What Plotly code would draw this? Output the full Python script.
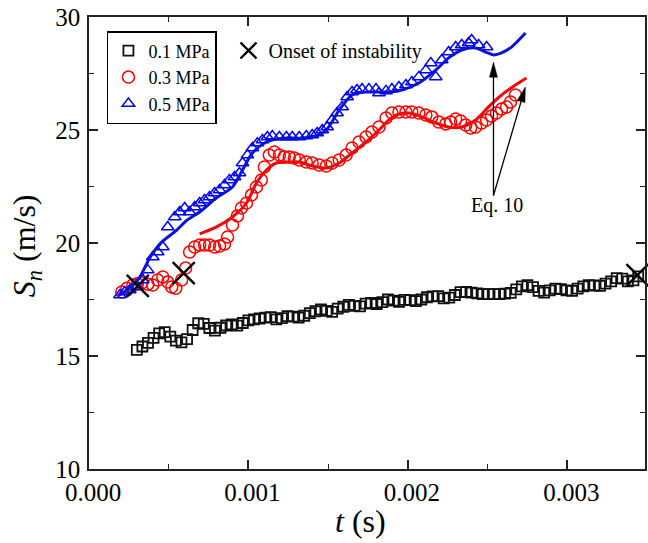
import math
import plotly.graph_objects as go

# ---------------- data (time in microseconds, flame speed in m/s) ----------------
t_01_us = [300, 335, 370, 405, 440, 475, 510, 545, 580, 615, 650, 685, 720, 755, 790,
           825, 860, 895, 930, 965, 1000, 1035, 1070, 1105, 1140, 1175, 1210, 1245,
           1280, 1315, 1350, 1385, 1420, 1455, 1490, 1525, 1560, 1595, 1630, 1665,
           1700, 1735, 1770, 1805, 1840, 1875, 1910, 1945, 1980, 2015, 2050, 2085,
           2120, 2155, 2190, 2225, 2260, 2295, 2330, 2365, 2400, 2435, 2470, 2505,
           2540, 2575, 2610, 2645, 2680, 2715, 2750, 2785, 2820, 2855, 2890, 2925,
           2960, 2995, 3030, 3065, 3100, 3135, 3170, 3205, 3240, 3275, 3310, 3345,
           3380, 3415, 3445]
s_01 = [15.27, 15.42, 15.58, 15.80, 16.00, 16.06, 15.86, 15.68, 15.60, 15.75, 16.15,
        16.45, 16.42, 16.24, 16.12, 16.25, 16.35, 16.40, 16.34, 16.46, 16.58, 16.62,
        16.66, 16.70, 16.72, 16.62, 16.68, 16.76, 16.74, 16.70, 16.78, 16.90, 16.98,
        17.06, 17.00, 16.95, 17.10, 17.18, 17.26, 17.22, 17.20, 17.32, 17.35, 17.30,
        17.38, 17.50, 17.45, 17.40, 17.48, 17.47, 17.43, 17.50, 17.60, 17.64, 17.65,
        17.55, 17.58, 17.70, 17.83, 17.84, 17.80, 17.77, 17.74, 17.74, 17.74, 17.74,
        17.76, 17.79, 17.95, 18.08, 18.14, 18.05, 17.88, 17.80, 17.90, 17.98, 17.96,
        17.90, 17.88, 17.98, 18.08, 18.14, 18.12, 18.10, 18.20, 18.30, 18.45, 18.42,
        18.30, 18.35, 18.52]

t_03_us = [206, 238, 275, 303, 331, 369, 400, 431, 463, 494, 519, 544, 581, 606, 631,
           663, 694, 725, 756, 788, 819, 850, 869, 900, 931, 956, 988, 1019, 1050,
           1081, 1100, 1131, 1163, 1194, 1225, 1256, 1288, 1319, 1363, 1400, 1444,
           1488, 1525, 1569, 1613, 1650, 1694, 1738, 1775, 1819, 1863, 1900, 1944,
           1988, 2025, 2069, 2113, 2150, 2194, 2238, 2269, 2300, 2331, 2363, 2394,
           2425, 2463, 2494, 2525, 2556, 2588, 2619, 2644, 2675]
s_03 = [17.83, 18.00, 18.14, 18.20, 18.23, 18.18, 18.14, 18.36, 18.50, 18.27, 18.05,
        18.00, 18.36, 18.89, 19.60, 19.82, 19.91, 19.91, 19.91, 19.82, 19.87, 19.96,
        20.27, 20.80, 21.20, 21.55, 21.77, 22.12, 22.48, 22.79, 23.36, 23.89, 24.03,
        23.89, 23.81, 23.81, 23.76, 23.67, 23.58, 23.54, 23.45, 23.41, 23.54, 23.67,
        23.89, 24.20, 24.47, 24.69, 24.91, 25.13, 25.53, 25.75, 25.80, 25.80, 25.80,
        25.75, 25.66, 25.58, 25.35, 25.27, 25.35, 25.49, 25.40, 25.22, 25.09, 25.13,
        25.31, 25.44, 25.62, 25.75, 25.93, 26.02, 26.24, 26.55]

t_05_us = [194, 225, 256, 300, 338, 369, 400, 431, 463, 494, 538, 569, 600, 631, 663,
           694, 725, 756, 788, 819, 850, 881, 913, 944, 963, 994, 1025, 1056, 1088,
           1119, 1150, 1194, 1238, 1275, 1319, 1363, 1400, 1431, 1463, 1494, 1525,
           1556, 1588, 1619, 1650, 1681, 1713, 1756, 1800, 1819, 1863, 1900, 1944,
           1988, 2025, 2069, 2113, 2144, 2175, 2213, 2256, 2300, 2338, 2381, 2400,
           2444, 2494]
s_05 = [17.70, 17.83, 17.92, 18.05, 18.36, 18.80, 19.38, 19.60, 19.82, 20.71, 21.15,
        21.37, 21.55, 21.37, 21.59, 21.77, 21.90, 22.04, 22.21, 22.35, 22.57, 22.79,
        22.92, 23.10, 23.54, 23.89, 24.20, 24.42, 24.56, 24.69, 24.73, 24.69, 24.69,
        24.69, 24.69, 24.73, 24.78, 24.87, 25.00, 25.13, 25.44, 25.75, 26.02, 26.46,
        26.68, 26.77, 26.81, 26.81, 26.81, 26.64, 26.73, 26.81, 26.90, 26.99, 27.12,
        27.35, 27.65, 27.96, 27.35, 28.10, 28.45, 28.67, 28.76, 28.85, 28.98, 28.76,
        28.67]

# Eq. 10 predictions
t_eq_03_us = [694, 800, 900, 988, 1050, 1113, 1175, 1238, 1319, 1400, 1488, 1569,
              1650, 1738, 1819, 1875, 1925, 2006, 2088, 2175, 2256, 2338, 2425, 2506,
              2588, 2675, 2744]
s_eq_03 = [20.40, 20.71, 21.15, 21.77, 22.65, 23.23, 23.54, 23.58, 23.58, 23.41, 23.32,
           23.54, 23.98, 24.47, 25.00, 25.40, 25.66, 25.75, 25.58, 25.31, 25.13, 25.13,
           25.44, 26.02, 26.55, 26.99, 27.30]

t_eq_05_us = [181, 250, 319, 381, 450, 550, 613, 694, 800, 900, 963, 1025, 1113, 1213,
              1319, 1400, 1488, 1569, 1650, 1738, 1819, 1881, 1963, 2069, 2175, 2256,
              2338, 2425, 2488, 2538, 2588, 2650, 2738]
s_eq_05 = [17.65, 18.00, 18.50, 19.34, 20.00, 20.57, 21.00, 21.37, 22.00, 22.48, 23.23,
           23.98, 24.47, 24.64, 24.64, 24.69, 25.00, 25.88, 26.55, 26.68, 26.68, 26.68,
           26.77, 27.08, 27.65, 28.19, 28.54, 28.63, 28.45, 28.32, 28.41, 28.67, 29.29]

# onset of instability
t_onset_us = [306, 594, 3440]
s_onset = [18.10, 18.67, 18.58]

# "Eq. 10" label and its two arrows (tail -> tip)
eq_label_pos = (2562, 21.64)
arrow_tail = (2537, 22.10)
arrow_tips = [(2537, 28.00), (2737, 26.90)]

x_ticks = [0.000, 0.001, 0.002, 0.003]
y_ticks = [10, 15, 20, 25, 30]

# ---------------- layout geometry ----------------
W, H = 648, 543
MARGIN = dict(l=89, r=1, t=17, b=74)
X_RANGE = [0.0, 0.0034875]
Y_RANGE = [10, 30]
plot_w = W - MARGIN["l"] - MARGIN["r"]
plot_h = H - MARGIN["t"] - MARGIN["b"]
sx = plot_w / (X_RANGE[1] - X_RANGE[0])   # px per second
sy = plot_h / (Y_RANGE[1] - Y_RANGE[0])   # px per m/s


def px_x(p):
    """pixel column -> paper x"""
    return (p - MARGIN["l"]) / plot_w


def px_y(p):
    """pixel row -> paper y"""
    return (H - MARGIN["b"] - p) / plot_h


FONT = "Liberation Serif, Times New Roman, serif"
BLUE_M, BLUE_L = "#0000ff", "#0a14d2"
RED_M, RED_L = "#ff0000", "#ee0a0a"


def us(v):
    return [a * 1e-6 for a in v]


fig = go.Figure()

fig.add_trace(go.Scatter(
    x=us(t_01_us), y=s_01, mode="markers", name="0.1 MPa",
    marker=dict(symbol="square-open", size=10, color="#111111", line=dict(width=1.8)),
))
fig.add_trace(go.Scatter(
    x=us(t_03_us), y=s_03, mode="markers", name="0.3 MPa",
    marker=dict(symbol="circle-open", size=12, color=RED_M, line=dict(width=1.5)),
))
fig.add_trace(go.Scatter(
    x=us(t_05_us), y=s_05, mode="markers", name="0.5 MPa",
    marker=dict(symbol="triangle-up-open", size=11, color=BLUE_M, line=dict(width=1.5)),
))
fig.add_trace(go.Scatter(
    x=us(t_eq_03_us), y=s_eq_03, mode="lines", showlegend=False,
    line=dict(color=RED_L, width=3, shape="spline", smoothing=0.8),
))
fig.add_trace(go.Scatter(
    x=us(t_eq_05_us), y=s_eq_05, mode="lines", showlegend=False,
    line=dict(color=BLUE_L, width=3, shape="spline", smoothing=0.8),
))
fig.add_trace(go.Scatter(
    x=us(t_onset_us), y=s_onset, mode="markers", name="Onset of instability",
    legend="legend2", cliponaxis=False,
    marker=dict(symbol="x-thin-open", size=22, color="black", line=dict(width=2.4, color="black")),
))

# arrows for the Eq. 10 label
shapes = []
HEAD_LEN, HEAD_HALF = 15, 4
bx, by = arrow_tail[0] * 1e-6, arrow_tail[1]
for tip in arrow_tips:
    tx, ty = tip[0] * 1e-6, tip[1]
    dx, dy = (tx - bx) * sx, (ty - by) * sy
    L = math.hypot(dx, dy)
    ux, uy = dx / L, dy / L
    px, py = -uy, ux
    cx, cy = -ux * HEAD_LEN, -uy * HEAD_LEN
    p1 = (tx + (cx + px * HEAD_HALF) / sx, ty + (cy + py * HEAD_HALF) / sy)
    p2 = (tx + (cx - px * HEAD_HALF) / sx, ty + (cy - py * HEAD_HALF) / sy)
    end = (tx + (-ux * HEAD_LEN * 0.7) / sx, ty + (-uy * HEAD_LEN * 0.7) / sy)
    shapes.append(dict(type="line", xref="x", yref="y", x0=bx, y0=by, x1=end[0], y1=end[1],
                       line=dict(color="black", width=1.3)))
    shapes.append(dict(type="path", xref="x", yref="y",
                       path=f"M {tx},{ty} L {p1[0]},{p1[1]} L {p2[0]},{p2[1]} Z",
                       fillcolor="black", line=dict(color="black", width=0.5)))

annotations = [
    dict(x=eq_label_pos[0] * 1e-6, y=eq_label_pos[1], xref="x", yref="y", text="Eq. 10",
         showarrow=False, font=dict(family=FONT, size=20, color="black")),
    dict(x=px_x(27), y=px_y(246), xref="paper", yref="paper",
         xanchor="center", yanchor="middle",
         text="<i>S</i><sub><i>n</i></sub> (m/s)", textangle=-90, showarrow=False,
         font=dict(family=FONT, size=32, color="black")),
    dict(x=px_x(361), y=px_y(521), xref="paper", yref="paper",
         xanchor="center", yanchor="middle",
         text="<i>t</i> (s)", showarrow=False,
         font=dict(family=FONT, size=32, color="black")),
]

axis_common = dict(
    showline=True, linecolor="#222222", linewidth=1.6, mirror="ticks",
    ticks="inside", ticklen=9, tickwidth=1.5, tickcolor="#222222",
    showgrid=False, zeroline=False,
    tickfont=dict(family=FONT, size=25, color="black"),
)

fig.update_layout(
    width=W, height=H, margin=MARGIN,
    paper_bgcolor="white", plot_bgcolor="white",
    font=dict(family=FONT, color="black"),
    xaxis=dict(range=X_RANGE, tickvals=x_ticks, tickformat=".3f", ticklabelshift=4,
               minor=dict(ticks="inside", ticklen=5, dtick=0.0005, tick0=0, tickcolor="#222222", tickwidth=1.3),
               **axis_common),
    yaxis=dict(range=Y_RANGE, tickvals=y_ticks, ticklabelstandoff=2,
               minor=dict(ticks="inside", ticklen=5, dtick=2.5, tick0=10, tickcolor="#222222", tickwidth=1.3),
               **axis_common),
    legend=dict(x=px_x(107), y=px_y(31),
                xanchor="left", yanchor="top", bgcolor="white",
                bordercolor="black", borderwidth=1.5, tracegroupgap=0,
                font=dict(family=FONT, size=18, color="black")),
    legend2=dict(x=px_x(229), y=px_y(31),
                 xanchor="left", yanchor="top", bgcolor="rgba(0,0,0,0)", borderwidth=0,
                 font=dict(family=FONT, size=20, color="black")),
    shapes=shapes,
    annotations=annotations,
    showlegend=True,
)

fig.write_html("out.html")
